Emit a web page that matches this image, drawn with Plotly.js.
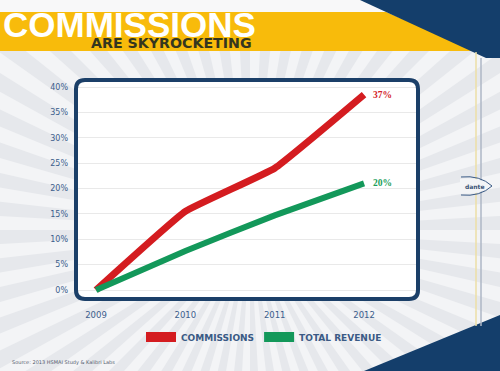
<!DOCTYPE html>
<html>
<head>
<meta charset="utf-8">
<script src="https://cdn.plot.ly/plotly-3.0.1.min.js"></script>
<style>
html,body{margin:0;padding:0;background:#e8eaee;}
#chart{width:500px;height:371px;}
</style>
</head>
<body>
<div id="chart"></div>
<script>
// ---- data ----
const years = [2009, 2010, 2011, 2012];
const yearLabels = ['2009', '2010', '2011', '2012'];
const commissions = [0, 15.5, 24, 38.5];
const totalRevenue = [0, 7.7, 14.7, 21];
const commissionsLabel = '37%';
const revenueLabel = '20%';
const seriesNames = ['COMMISSIONS', 'TOTAL REVENUE'];
const yTickVals = [0, 5, 10, 15, 20, 25, 30, 35, 40];
const yTickLabels = ['0%', '5%', '10%', '15%', '20%', '25%', '30%', '35%', '40%'];
const titleMain = 'COMMISSIONS';
const titleSub = 'ARE SKYROCKETING';
const sourceText = 'Source: 2013 HSMAI Study &amp; Kalibri Labs';
const logoText = 'dante';

// ---- geometry helpers (pixel -> paper) ----
const W = 500, H = 371, L = 76, R = 418, T = 80, B = 299;
const px = x => (x - L) / (R - L);
const py = y => (B - y) / (B - T);
const pt = (x, y) => px(x).toFixed(4) + ',' + py(y).toFixed(4);
function poly(points) {
  return 'M' + points.map(p => pt(p[0], p[1])).join('L') + 'Z';
}
function roundRect(x0, y0, x1, y1, r) {
  return 'M' + pt(x0 + r, y0) + 'L' + pt(x1 - r, y0) +
    'Q' + pt(x1, y0) + ' ' + pt(x1, y0 + r) +
    'L' + pt(x1, y1 - r) +
    'Q' + pt(x1, y1) + ' ' + pt(x1 - r, y1) +
    'L' + pt(x0 + r, y1) +
    'Q' + pt(x0, y1) + ' ' + pt(x0, y1 - r) +
    'L' + pt(x0, y0 + r) +
    'Q' + pt(x0, y0) + ' ' + pt(x0 + r, y0) + 'Z';
}

const shapes = [];
// background rays (soft)
const cx = 250, cy = 230, rad = 700, nRays = 56;
for (let i = 0; i < nRays; i++) {
  const a0 = (i / nRays) * 2 * Math.PI;
  const a1 = a0 + (2 * Math.PI / nRays) * 0.5;
  shapes.push({
    type: 'path', xref: 'paper', yref: 'paper', layer: 'below',
    path: poly([[cx, cy], [cx + rad * Math.cos(a0), cy + rad * Math.sin(a0)], [cx + rad * Math.cos(a1), cy + rad * Math.sin(a1)]]),
    fillcolor: 'rgba(255,255,255,0.5)', line: {width: 0}
  });
}
// top white strip
shapes.push({type: 'path', xref: 'paper', yref: 'paper', layer: 'below',
  path: poly([[0, 0], [500, 0], [500, 12], [0, 12]]), fillcolor: '#f8f8f9', line: {width: 0}});
// yellow banner
shapes.push({type: 'path', xref: 'paper', yref: 'paper', layer: 'below',
  path: poly([[0, 12], [386, 12], [478, 51], [0, 51]]), fillcolor: '#f8bb0b', line: {width: 0}});
// navy top-right corner
shapes.push({type: 'path', xref: 'paper', yref: 'paper', layer: 'below',
  path: poly([[360, 0], [500, 0], [500, 58], [486, 58]]), fillcolor: '#143e6b', line: {width: 0}});
// navy bottom-right corner
shapes.push({type: 'path', xref: 'paper', yref: 'paper', layer: 'below',
  path: poly([[364, 371], [500, 315], [500, 371]]), fillcolor: '#143e6b', line: {width: 0}});
// right vertical rules
shapes.push({type: 'line', xref: 'paper', yref: 'paper', layer: 'below',
  x0: px(476), x1: px(476), y0: py(52), y1: py(326), line: {color: '#ecdfa6', width: 1.5}});
shapes.push({type: 'line', xref: 'paper', yref: 'paper', layer: 'below',
  x0: px(481), x1: px(481), y0: py(58), y1: py(326), line: {color: '#aeb7c6', width: 1.5}});
// logo background + arcs
shapes.push({type: 'path', xref: 'paper', yref: 'paper', layer: 'below',
  path: 'M' + pt(460, 179) + 'Q' + pt(478, 176) + ' ' + pt(492, 186) + 'Q' + pt(478, 196) + ' ' + pt(460, 193) + 'Z',
  fillcolor: '#f3f4f6', line: {width: 0}});
shapes.push({type: 'path', xref: 'paper', yref: 'paper', layer: 'below',
  path: 'M' + pt(461, 177) + 'Q' + pt(480, 175) + ' ' + pt(492, 186),
  line: {color: '#3a5a85', width: 1}});
shapes.push({type: 'path', xref: 'paper', yref: 'paper', layer: 'below',
  path: 'M' + pt(461, 195) + 'Q' + pt(480, 197) + ' ' + pt(492, 186),
  line: {color: '#3a5a85', width: 1}});
// plot box fill
shapes.push({type: 'path', xref: 'paper', yref: 'paper', layer: 'below',
  path: roundRect(L, T, R, B, 9), fillcolor: '#ffffff', line: {width: 0}});
// plot box border
shapes.push({type: 'path', xref: 'paper', yref: 'paper', layer: 'above',
  path: roundRect(L, T, R, B, 9), fillcolor: 'rgba(0,0,0,0)', line: {color: '#1b3f68', width: 4}});

const traces = [
  {x: years, y: commissions, name: seriesNames[0], mode: 'lines', showlegend: false,
    line: {color: '#d41c20', width: 7, shape: 'spline', smoothing: 0.3}, hoverinfo: 'skip'},
  {x: years, y: totalRevenue, name: seriesNames[1], mode: 'lines', showlegend: false,
    line: {color: '#13985a', width: 6, shape: 'spline', smoothing: 0.3}, hoverinfo: 'skip'},
  {x: [null], y: [null], name: seriesNames[0], mode: 'lines', showlegend: true,
    line: {color: '#d41c20', width: 10}},
  {x: [null], y: [null], name: seriesNames[1], mode: 'lines', showlegend: true,
    line: {color: '#13985a', width: 10}}
];

const last = years.length - 1;
const layout = {
  width: W, height: H, autosize: false,
  margin: {l: L, r: W - R, t: T, b: H - B, pad: 0},
  paper_bgcolor: '#e6e8ec', plot_bgcolor: 'rgba(0,0,0,0)',
  showlegend: true,
  legend: {orientation: 'h', x: px(141), xanchor: 'left', y: py(337), yanchor: 'middle',
    bgcolor: 'rgba(0,0,0,0)', itemwidth: 30,
    font: {family: 'DejaVu Sans', size: 9, color: '#3a5a85', weight: 'bold'}},
  xaxis: {range: [2008.776, 2012.604], tickvals: years, ticktext: yearLabels,
    showgrid: false, zeroline: false, showline: false, ticks: '', ticklabelstandoff: 9,
    tickfont: {family: 'DejaVu Sans', size: 8.5, color: '#3c5e8c'}, fixedrange: true},
  yaxis: {range: [-1.77, 41.38], tickvals: yTickVals, ticktext: yTickLabels,
    showgrid: true, gridcolor: '#e9e9e9', gridwidth: 1, zeroline: false, showline: false,
    ticks: '', ticklabelstandoff: 7,
    tickfont: {family: 'DejaVu Sans', size: 8, color: '#3c5e8c'}, fixedrange: true},
  shapes: shapes,
  annotations: [
    {text: commissionsLabel, x: years[last], y: commissions[last], xref: 'x', yref: 'y',
      xanchor: 'left', yanchor: 'middle', xshift: 7, showarrow: false,
      font: {family: 'Liberation Serif', size: 9.5, color: '#d3242a', weight: 'bold'}},
    {text: revenueLabel, x: years[last], y: totalRevenue[last], xref: 'x', yref: 'y',
      xanchor: 'left', yanchor: 'middle', xshift: 7, showarrow: false,
      font: {family: 'Liberation Serif', size: 9.5, color: '#1a9e5a', weight: 'bold'}},
    {text: titleMain, xref: 'paper', yref: 'paper', x: px(1), y: py(24.5), xanchor: 'left', yanchor: 'middle',
      showarrow: false, font: {family: 'Liberation Sans', size: 35, color: '#ffffff', weight: 'bold'}},
    {text: titleSub, xref: 'paper', yref: 'paper', x: px(89), y: py(43.5), xanchor: 'left', yanchor: 'middle',
      showarrow: false, font: {family: 'DejaVu Sans', size: 14.2, color: '#34361f', weight: 'bold'}},
    {text: logoText, xref: 'paper', yref: 'paper', x: px(475), y: py(186), xanchor: 'center', yanchor: 'middle',
      showarrow: false, font: {family: 'DejaVu Sans', size: 6, color: '#3a5275', weight: 'bold'}},
    {text: sourceText, xref: 'paper', yref: 'paper', x: px(10), y: py(362), xanchor: 'left', yanchor: 'middle',
      showarrow: false, font: {family: 'DejaVu Sans', size: 5, color: '#55606e'}}
  ]
};

Plotly.newPlot('chart', traces, layout, {displayModeBar: false, staticPlot: true});
</script>
</body>
</html>
